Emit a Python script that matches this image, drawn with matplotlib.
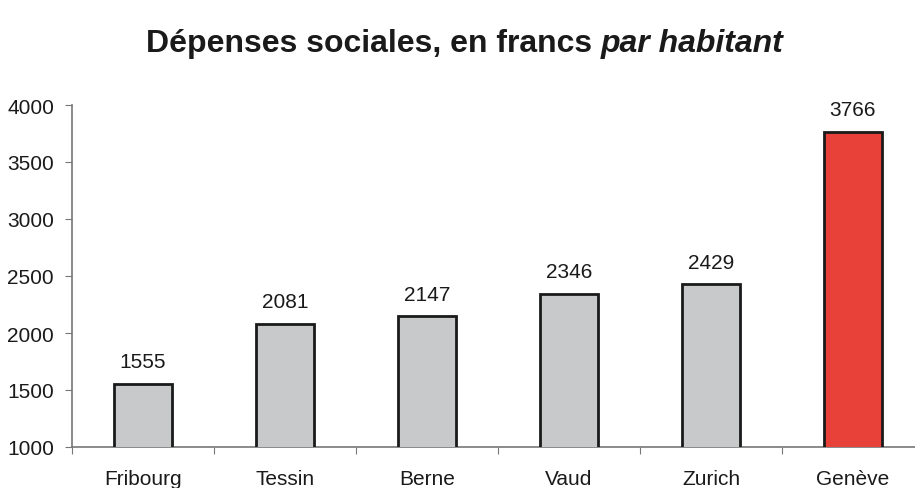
import numpy as np
import matplotlib.pyplot as plt

plt.rcParams['font.family'] = ['Liberation Sans', 'DejaVu Sans']

cantons = ['Fribourg', 'Tessin', 'Berne', 'Vaud', 'Zurich', 'Genève']
depenses = [1555, 2081, 2147, 2346, 2429, 3766]
bar_colors = ['#c8c9cb'] * 5 + ['#e8413a']

fig = plt.figure(figsize=(9.15, 4.89), dpi=100)
ax = fig.add_axes([72/915, 41/489, 852/915, 342/489])

x = np.arange(len(cantons))
ax.bar(x, depenses, width=0.41, bottom=0, color=bar_colors,
       edgecolor='#1a1a1a', linewidth=2, zorder=3)
for xi, v in zip(x, depenses):
    ax.annotate(f'{v}', (xi, v), xytext=(0, 9), textcoords='offset points',
                ha='center', va='bottom', fontsize=15, color='#1a1a1a')

ax.set_xlim(-0.5, 5.5)
ax.set_ylim(1000, 4000)
ax.set_yticks(range(1000, 4001, 500))
ax.set_xticks(np.arange(-0.5, 5.6, 1.0))
ax.set_xticklabels([])
ax.set_xticks(x, minor=True)
ax.set_xticklabels(cantons, minor=True)
ax.tick_params(axis='x', which='minor', length=0, pad=16, labelsize=15, labelcolor='#1a1a1a')
ax.tick_params(axis='x', which='major', length=5, color='#777777', direction='out')
ax.tick_params(axis='y', length=5, color='#777777', direction='out', labelsize=15,
               labelcolor='#1a1a1a', pad=8)
for s in ['top', 'right']:
    ax.spines[s].set_visible(False)
for s in ['left', 'bottom']:
    ax.spines[s].set_color('#777777')
    ax.spines[s].set_linewidth(1.2)

# title: bold part + bold italic part, centred together
fig.canvas.draw()
r = fig.canvas.get_renderer()
ty = 1 - 44/489
t1 = fig.text(0, ty, 'Dépenses sociales, en francs ', fontsize=23, fontweight='bold',
              ha='left', va='center', color='#1a1a1a')
t2 = fig.text(0, ty, 'par habitant', fontsize=23, fontweight='bold', fontstyle='italic',
              ha='left', va='center', color='#1a1a1a')
w1 = t1.get_window_extent(r).width / fig.bbox.width
w2 = t2.get_window_extent(r).width / fig.bbox.width
x0 = 0.5 - (w1 + w2) / 2 + 0.008
t1.set_x(x0)
t2.set_x(x0 + w1)

fig.savefig('out.png', dpi=100)
